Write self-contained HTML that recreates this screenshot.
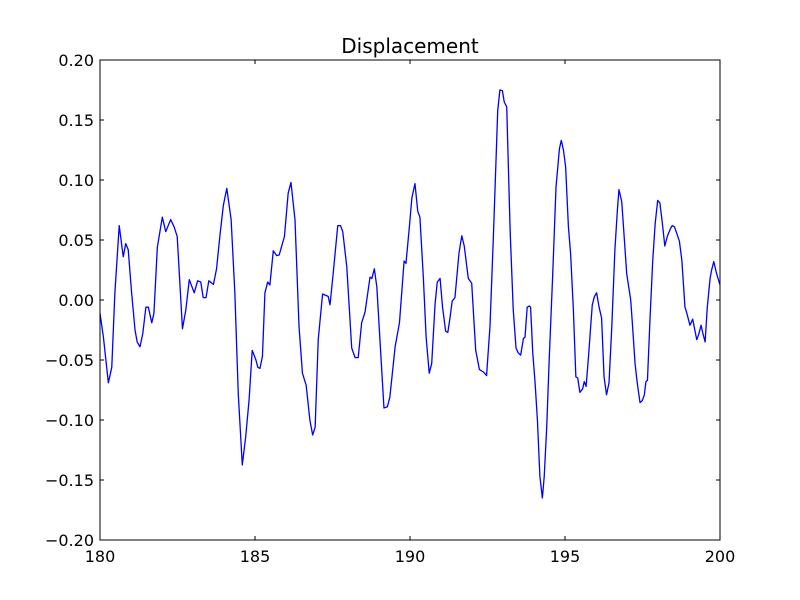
<!DOCTYPE html>
<html><head><meta charset="utf-8"><style>
body{margin:0;background:#fff;}
svg{display:block;font-family:"DejaVu Sans","Liberation Sans",sans-serif;}
</style></head><body>
<svg id="chart" width="800" height="600">
<rect x="0" y="0" width="800" height="600" fill="#fff"/>
<text x="410" y="53" text-anchor="middle" font-size="20">Displacement</text>
<g id="ticks"></g>
<path id="line" fill="none" stroke="#0000ff" stroke-width="1.3" stroke-linejoin="round"/>
<rect x="100" y="60" width="620" height="480" fill="none" stroke="#000" stroke-width="1"/>
</svg>
<script>
const times=[180.0,180.11,180.27,180.38,180.48,180.62,180.75,180.83,180.91,181.02,181.13,181.20,181.29,181.38,181.48,181.56,181.67,181.74,181.85,182.01,182.12,182.28,182.39,182.49,182.66,182.77,182.88,183.04,183.15,183.25,183.33,183.42,183.51,183.66,183.76,183.87,183.98,184.09,184.23,184.35,184.46,184.59,184.70,184.81,184.91,185.03,185.09,185.16,185.24,185.32,185.41,185.48,185.59,185.70,185.78,185.95,186.07,186.16,186.29,186.42,186.53,186.65,186.77,186.86,186.94,187.04,187.18,187.36,187.42,187.51,187.67,187.76,187.83,187.96,188.12,188.23,188.33,188.44,188.55,188.71,188.77,188.85,188.93,189.03,189.16,189.27,189.35,189.52,189.66,189.81,189.87,189.98,190.06,190.16,190.25,190.32,190.43,190.52,190.62,190.70,190.81,190.88,190.97,191.05,191.15,191.22,191.29,191.36,191.45,191.58,191.67,191.75,191.88,191.99,192.12,192.24,192.37,192.47,192.58,192.69,192.83,192.90,192.98,193.04,193.12,193.23,193.33,193.42,193.49,193.57,193.66,193.71,193.78,193.85,193.89,193.96,194.03,194.11,194.19,194.27,194.33,194.41,194.49,194.60,194.71,194.82,194.88,194.95,195.02,195.11,195.18,195.27,195.35,195.41,195.48,195.57,195.62,195.68,195.75,195.88,195.95,196.02,196.10,196.18,196.26,196.34,196.42,196.51,196.61,196.69,196.74,196.83,196.90,196.99,197.12,197.18,197.26,197.33,197.42,197.49,197.56,197.61,197.66,197.74,197.83,197.91,197.99,198.06,198.14,198.22,198.30,198.41,198.46,198.53,198.60,198.69,198.77,198.87,198.93,199.03,199.12,199.18,199.25,199.31,199.39,199.44,199.52,199.59,199.68,199.73,199.80,199.89,200.0];
const displacement=[-0.011,-0.031,-0.069,-0.056,0.006,0.062,0.036,0.047,0.042,0.006,-0.025,-0.035,-0.039,-0.028,-0.006,-0.006,-0.019,-0.011,0.044,0.069,0.057,0.067,0.061,0.053,-0.024,-0.008,0.017,0.006,0.016,0.015,0.002,0.002,0.016,0.013,0.026,0.054,0.079,0.093,0.067,0.006,-0.078,-0.1375,-0.114,-0.083,-0.042,-0.050,-0.056,-0.057,-0.047,0.006,0.015,0.0125,0.041,0.037,0.0375,0.053,0.089,0.098,0.067,-0.022,-0.061,-0.071,-0.100,-0.1125,-0.106,-0.033,0.005,0.003,-0.004,0.019,0.062,0.062,0.057,0.028,-0.040,-0.048,-0.048,-0.019,-0.010,0.019,0.018,0.026,0.011,-0.033,-0.090,-0.089,-0.081,-0.039,-0.019,0.0325,0.0305,0.061,0.085,0.097,0.074,0.069,0.019,-0.031,-0.061,-0.053,-0.003,0.015,0.018,-0.006,-0.026,-0.027,-0.015,-0.001,0.002,0.039,0.0535,0.045,0.018,0.014,-0.042,-0.058,-0.060,-0.063,-0.022,0.053,0.158,0.175,0.1745,0.165,0.161,0.058,-0.008,-0.040,-0.044,-0.046,-0.032,-0.031,-0.006,-0.005,-0.006,-0.044,-0.067,-0.100,-0.147,-0.165,-0.147,-0.106,-0.050,0.019,0.094,0.126,0.133,0.125,0.111,0.061,0.039,-0.008,-0.064,-0.065,-0.077,-0.074,-0.068,-0.072,-0.050,-0.004,0.003,0.006,-0.006,-0.015,-0.064,-0.079,-0.069,-0.022,0.042,0.075,0.092,0.082,0.056,0.022,0.000,-0.022,-0.053,-0.069,-0.0855,-0.084,-0.079,-0.068,-0.067,-0.017,0.033,0.064,0.083,0.081,0.064,0.045,0.053,0.060,0.062,0.061,0.056,0.049,0.033,-0.006,-0.011,-0.021,-0.016,-0.024,-0.033,-0.029,-0.021,-0.027,-0.035,-0.006,0.018,0.025,0.032,0.022,0.0125];
const xTicks=[180,185,190,195,200];
const xTickLabels=["180","185","190","195","200"];
const yTicks=[-0.20,-0.15,-0.10,-0.05,0.00,0.05,0.10,0.15,0.20];
const yTickLabels=["\u22120.20","\u22120.15","\u22120.10","\u22120.05","0.00","0.05","0.10","0.15","0.20"];
const X0=100,X1=720,Y0=540,Y1=60,xmin=180,xmax=200,ymin=-0.2,ymax=0.2;
function xs(v){return X0+(v-xmin)/(xmax-xmin)*(X1-X0);}
function ys(v){return Y0-(v-ymin)/(ymax-ymin)*(Y0-Y1);}
const NS="http://www.w3.org/2000/svg";
const g=document.getElementById('ticks');
function mk(tag,attrs){const e=document.createElementNS(NS,tag);for(const k in attrs)e.setAttribute(k,attrs[k]);g.appendChild(e);return e;}
xTicks.forEach((t,i)=>{
  const x=xs(t);
  const a=mk('line',{x1:x,x2:x,y1:Y0,y2:Y0-4,stroke:'#000'});
  
  
  const b=mk('line',{x1:x,x2:x,y1:Y1,y2:Y1+4,stroke:'#000'});
  
  
  const tx=mk('text',{x:x,y:Y0+22,'text-anchor':'middle','font-size':'16'});
  tx.textContent=xTickLabels[i];
  
  
});
yTicks.forEach((t,i)=>{
  const y=ys(t);
  const a=mk('line',{x1:X0,x2:X0+4,y1:y,y2:y,stroke:'#000'});
  
  
  const b=mk('line',{x1:X1,x2:X1-4,y1:y,y2:y,stroke:'#000'});
  
  
  const tx=mk('text',{x:X0-6,y:y+6,'text-anchor':'end','font-size':'16'});
  tx.textContent=yTickLabels[i];
  
  
});
let d='';
times.forEach((t,i)=>{d+=(i?'L':'M')+xs(t).toFixed(2)+','+ys(displacement[i]).toFixed(2);});
document.getElementById('line').setAttribute('d',d);
</script>
</body></html>
